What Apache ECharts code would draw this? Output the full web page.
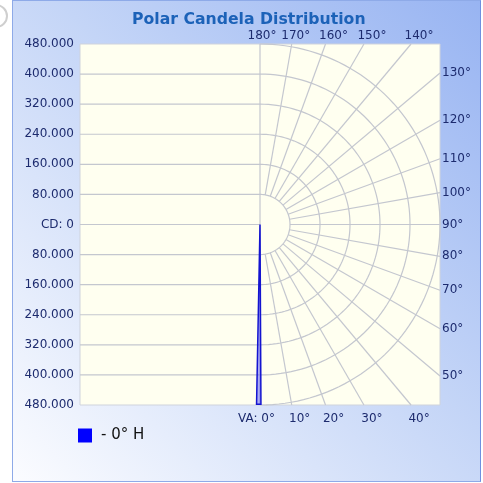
<!DOCTYPE html>
<html>
<head>
<meta charset="utf-8">
<script src="https://cdn.jsdelivr.net/npm/echarts@6/dist/echarts.min.js"></script>
<style>
  body { margin: 0; background: #fff; }
  #wrap { position: relative; width: 483px; height: 483px; }
  #panel {
    position: absolute; left: 12px; top: 0; width: 467px; height: 480px;
    border: 1px solid #8eaae8; border-right-color: #6f8fe0;
    background: linear-gradient(to bottom left, #98b4f2 0%, #c4d5f7 45%, #fbfcff 100%);
  }
  #chart { position: absolute; left: 0; top: 0; width: 483px; height: 483px; }
</style>
</head>
<body>
<div id="wrap">
  <div id="panel"></div>
  <div id="chart"></div>
</div>
<script>
// candela rings and vertical-angle spokes
var ringCD = [80000, 160000, 240000, 320000, 400000, 480000]
var spokeVA = [0, 10, 20, 30, 40, 50, 60, 70, 80, 90, 100, 110, 120, 130, 140, 150, 160, 170, 180]
var leftLinesCD = [-400000, -320000, -240000, -160000, -80000, 0, 80000, 160000, 240000, 320000, 400000]

// 0° H curve (vertical angle in degrees, candela); negative angle = mirrored side
var beamVA = [0, -1.1, 0.3, 0]
var beamCD = [0, 478000, 478000, 0]

var maxCD = 480000
var gridColor = '#c4c7cf'
var labelColor = '#1d2b6e'
var labelFont = '12px "DejaVu Sans"'

function toXY(va, cd) {
    var a = va * Math.PI / 180
    return [cd * Math.sin(a), -cd * Math.cos(a)]
}

// where a spoke leaves the square plot
function edgePoint(va) {
    var d = toXY(va, 1)
    var tx = Math.abs(d[0]) > 1e-9 ? maxCD / Math.abs(d[0]) : Infinity
    var ty = Math.abs(d[1]) > 1e-9 ? maxCD / Math.abs(d[1]) : Infinity
    var t = Math.min(tx, ty)
    var side = tx < ty - 1e-6 ? 'right' : (d[1] > 0 ? 'top' : 'bottom')
    return { p: [d[0] * t, d[1] * t], side: side }
}

var chart = echarts.init(document.getElementById('chart'))

var option = {
    backgroundColor: 'transparent',
    animation: false,
    title: {
        text: 'Polar Candela Distribution',
        left: 127,
        top: 7,
        textStyle: { fontFamily: 'DejaVu Sans', fontWeight: 'bold', fontSize: 15.7, color: '#1c62b8' }
    },
    graphic: [{
        type: 'circle',
        shape: { cx: -4, cy: 16, r: 11 },
        style: { fill: 'none', stroke: '#cfcfcf', lineWidth: 2 }
    }],
    legend: {
        data: [{ name: '- 0° H', icon: 'rect' }],
        left: 78,
        top: 428,
        padding: 0,
        itemWidth: 14,
        itemHeight: 14,
        textStyle: { fontFamily: 'DejaVu Sans', fontSize: 15, color: '#111', padding: [0, 0, 0, 4] }
    },
    grid: {
        left: 80, top: 44, width: 360, height: 361,
        show: true, backgroundColor: '#fffff0', borderColor: '#cfd3dc', borderWidth: 1
    },
    xAxis: { type: 'value', min: -maxCD, max: maxCD, show: false },
    yAxis: {
        type: 'value', min: -maxCD, max: maxCD, interval: 80000,
        axisLine: { show: false }, axisTick: { show: false }, splitLine: { show: false },
        axisLabel: {
            color: labelColor, fontFamily: 'DejaVu Sans', fontSize: 12, margin: 6,
            formatter: function (v) {
                if (v === 0) return 'CD: 0'
                return Math.abs(v).toLocaleString('de-DE')
            }
        }
    },
    series: [
        {
            name: 'hlines', type: 'custom', silent: true, z: 1,
            data: leftLinesCD.map(function (v) { return [v] }),
            renderItem: function (params, api) {
                var y = api.value(0)
                var a = api.coord([-maxCD, y]), b = api.coord([0, y])
                return { type: 'line', shape: { x1: a[0], y1: a[1], x2: b[0], y2: b[1] }, style: { stroke: gridColor, lineWidth: 1.2 } }
            }
        },
        {
            name: 'rings', type: 'custom', silent: true, z: 1,
            data: ringCD.map(function (v) { return [v] }),
            renderItem: function (params, api) {
                var r = api.value(0)
                var pts = []
                for (var va = 0; va <= 180; va += 2) pts.push(api.coord(toXY(va, r)))
                return { type: 'polyline', shape: { points: pts }, style: { stroke: gridColor, fill: null, lineWidth: 1.2 } }
            }
        },
        {
            name: 'spokes', type: 'custom', silent: true, z: 1,
            data: spokeVA.map(function (v) { return [v] }),
            renderItem: function (params, api) {
                var va = api.value(0)
                var start = (va === 0 || va === 180) ? 0 : ringCD[0]
                var a = api.coord(toXY(va, start))
                var b = api.coord(edgePoint(va).p)
                return { type: 'line', shape: { x1: a[0], y1: a[1], x2: b[0], y2: b[1] }, style: { stroke: gridColor, lineWidth: 1.2 } }
            }
        },
        {
            name: 'angleLabels', type: 'custom', silent: true, z: 3,
            data: spokeVA.map(function (v) { return [v] }),
            renderItem: function (params, api) {
                var va = api.value(0)
                var e = edgePoint(va)
                var p = api.coord(e.p)
                var st = { text: va + '°', fill: labelColor, font: labelFont, align: 'center', verticalAlign: 'middle' }
                var x = p[0], y = p[1]
                if (e.side === 'top') { x += (va === 180 ? 2 : va === 170 ? 4 : 8); y -= 8 }
                else if (e.side === 'bottom') {
                    y += 14
                    if (va === 0) { st.text = 'VA: 0°'; st.align = 'right'; x += 15 }
                    else x += 8
                }
                else { x += 2; st.align = 'left' }
                st.x = x; st.y = y
                return { type: 'text', style: st }
            }
        },
        {
            name: '- 0° H', type: 'custom', z: 4, clip: true,
            itemStyle: { color: '#0000ff' },
            data: [[0]],
            renderItem: function (params, api) {
                var pts = beamVA.map(function (va, i) { return api.coord(toXY(va, beamCD[i])) })
                return {
                    type: 'polygon', shape: { points: pts },
                    style: { fill: 'rgba(70,70,255,0.45)', stroke: '#1414d0', lineWidth: 1.5 }
                }
            }
        }
    ]
}

option && chart.setOption(option)
</script>
</body>
</html>
